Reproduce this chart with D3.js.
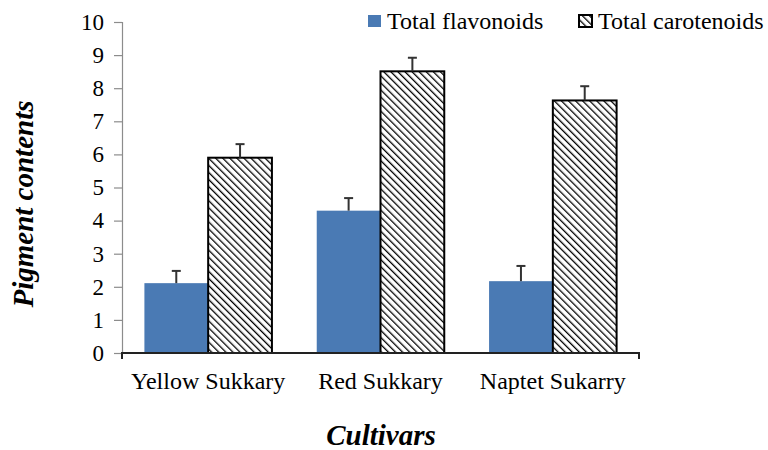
<!DOCTYPE html>
<html>
<head>
<meta charset="utf-8">
<script src="https://cdn.jsdelivr.net/npm/d3@7"></script>
<style>
  html, body { margin: 0; padding: 0; background: #fff; }
  svg { display: block; font-family: "Liberation Serif", "Times New Roman", serif; }
</style>
</head>
<body>
<svg id="chart" width="768" height="450"></svg>
<script>
// Pigment contents per cultivar
const cultivars = ["Yellow Sukkary", "Red Sukkary", "Naptet Sukarry"];
const seriesNames = ["Total flavonoids", "Total carotenoids"];
const flavonoids = [2.11, 4.30, 2.17];
const carotenoids = [5.90, 8.51, 7.63];
const flavonoidErr = [0.37, 0.38, 0.46];
const carotenoidErr = [0.41, 0.41, 0.43];
const yTicks = [0, 1, 2, 3, 4, 5, 6, 7, 8, 9, 10];

const serif = "Liberation Serif, Times New Roman, serif";
const svg = d3.select("#chart");
const plotLeft = 122, plotRight = 639, plotTop = 22, plotBottom = 353;

// diagonal hatch running from upper left to lower right
const defs = svg.append("defs");
const pat = defs.append("pattern")
  .attr("id", "hatch")
  .attr("patternUnits", "userSpaceOnUse")
  .attr("width", 5).attr("height", 5)
  .attr("patternTransform", "rotate(-45)");
pat.append("rect").attr("width", 5).attr("height", 5).attr("fill", "#fff");
pat.append("line").attr("x1", 0).attr("y1", 0).attr("x2", 0).attr("y2", 5)
  .attr("stroke", "#000").attr("stroke-width", 2.6);

const x0 = d3.scaleBand().domain(cultivars).range([plotLeft, plotRight]).paddingInner(0.26).paddingOuter(0.13);
const x1 = d3.scaleBand().domain(seriesNames).range([0, x0.bandwidth()]);
const y = d3.scaleLinear().domain([0, 10]).range([plotBottom, plotTop]);

const fills = ["#4a7ab4", "url(#hatch)"];
const values = [flavonoids, carotenoids];
const errs = [flavonoidErr, carotenoidErr];

// Y axis
const yAxis = svg.append("g").attr("transform", `translate(${plotLeft},0)`)
  .call(d3.axisLeft(y).tickValues(yTicks).tickSize(8).tickPadding(10).tickFormat(d3.format("d")))
  .attr("font-family", serif).attr("font-size", 23);
yAxis.select(".domain").attr("stroke", "#8c8c8c").attr("stroke-width", 1.2);
yAxis.selectAll(".tick line").attr("stroke", "#8c8c8c").attr("stroke-width", 1.2);
yAxis.selectAll(".tick text").attr("fill", "#000");

// Bars
cultivars.forEach((c, i) => {
  seriesNames.forEach((s, j) => {
    const v = values[j][i];
    const bx = x0(c) + x1(s);
    const bw = x1.bandwidth();
    svg.append("rect")
      .attr("x", bx).attr("y", y(v))
      .attr("width", bw).attr("height", y(0) - y(v))
      .attr("fill", fills[j])
      .attr("stroke", j === 1 ? "#000" : "none")
      .attr("stroke-width", 2);
    // error bar
    const cx = bx + bw / 2;
    const e = v + errs[j][i];
    svg.append("line").attr("x1", cx).attr("x2", cx)
      .attr("y1", y(v)).attr("y2", y(e))
      .attr("stroke", "#333").attr("stroke-width", 2);
    svg.append("line").attr("x1", cx - 4.5).attr("x2", cx + 4.5)
      .attr("y1", y(e)).attr("y2", y(e))
      .attr("stroke", "#333").attr("stroke-width", 2);
  });
});

// X axis
const xAxis = svg.append("g").attr("transform", `translate(0,${plotBottom})`)
  .call(d3.axisBottom(x0).tickSize(0).tickPadding(19))
  .attr("font-family", serif).attr("font-size", 24);
xAxis.select(".domain").attr("stroke", "#222").attr("stroke-width", 2)
  .attr("d", `M${plotLeft},6V0H${plotRight}V6`);
xAxis.selectAll(".tick text").attr("fill", "#000");

// Axis titles
svg.append("text")
  .attr("transform", `translate(33,204) rotate(-90)`)
  .attr("text-anchor", "middle")
  .attr("font-family", serif)
  .style("font-size", "29px").style("font-weight", "bold").style("font-style", "italic")
  .text("Pigment contents");
svg.append("text")
  .attr("x", 381).attr("y", 445)
  .attr("text-anchor", "middle")
  .attr("font-family", serif)
  .style("font-size", "29px").style("font-weight", "bold").style("font-style", "italic")
  .text("Cultivars");

// Legend
const legend = svg.append("g").attr("font-family", serif);
const legendX = [368, 579];
seriesNames.forEach((s, j) => {
  legend.append("rect").attr("x", legendX[j]).attr("y", 15)
    .attr("width", 13).attr("height", 12)
    .attr("fill", fills[j]).attr("stroke", j === 1 ? "#000" : "none").attr("stroke-width", 2);
  legend.append("text").attr("x", legendX[j] + 19).attr("y", 29)
    .style("font-size", "24px").attr("fill", "#000").text(s);
});
</script>
</body>
</html>
